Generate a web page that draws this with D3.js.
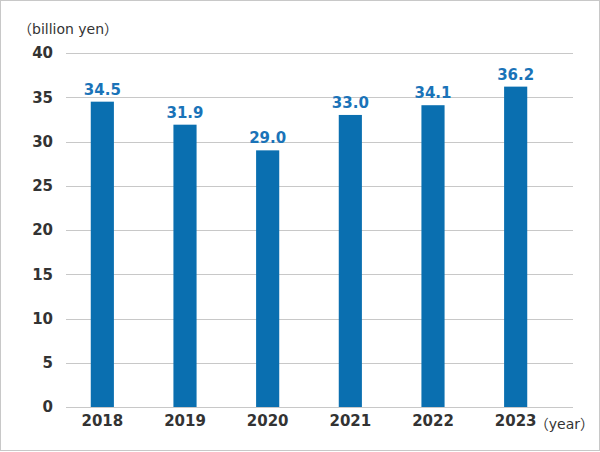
<!DOCTYPE html>
<html><head><meta charset="utf-8">
<script src="https://cdn.jsdelivr.net/npm/d3@7"></script>
<style>body{margin:0;background:#fff}svg{display:block;font-family:Verdana,"DejaVu Sans","Noto Sans",sans-serif}</style>
</head><body><svg id="c" width="600" height="452"></svg>
<script>
const years = ["2018","2019","2020","2021","2022","2023"];
const values = [34.5, 31.9, 29.0, 33.0, 34.1, 36.2];
const yTicks = [0,5,10,15,20,25,30,35,40];
const unitLabel = "（billion yen）";
const xUnitLabel = "（year）";

const svg = d3.select("#c");
svg.append("rect").attr("x",0.5).attr("y",0.5).attr("width",599).attr("height",450)
  .attr("fill","#fff").attr("stroke","#c8c8c8");

const y = d3.scaleLinear().domain([0,40]).range([407,53]);
const x = d3.scaleBand().domain(years).range([61,557]).paddingInner(0.72).paddingOuter(0.36);

// grid
svg.append("g").selectAll("line").data(yTicks).join("line")
  .attr("x1",66).attr("x2",573)
  .attr("y1",d=>Math.round(y(d))+0.5).attr("y2",d=>Math.round(y(d))+0.5)
  .attr("stroke","#c8c8c8").attr("stroke-width",1);

// y axis labels
const ya = svg.append("g").attr("transform","translate(53,0)")
  .call(d3.axisLeft(y).tickValues(yTicks).tickSize(0).tickPadding(0));
ya.select(".domain").remove();
ya.selectAll("text").attr("font-size",15).attr("font-weight","bold").attr("fill","#333")
  .attr("font-family","Verdana,'DejaVu Sans',sans-serif");

// bars
svg.append("g").selectAll("rect").data(values).join("rect")
  .attr("x",(d,i)=>x(years[i])).attr("width",x.bandwidth())
  .attr("y",d=>y(d)).attr("height",d=>y(0)-y(d))
  .attr("fill","#0a6fb0");

// value labels
svg.append("g").selectAll("text").data(values).join("text")
  .attr("x",(d,i)=>x(years[i])+x.bandwidth()/2).attr("y",d=>y(d)-7)
  .attr("text-anchor","middle").attr("font-size",15).attr("font-weight","bold")
  .attr("fill","#1a73b8").text(d=>d.toFixed(1));

// x axis
const xa = svg.append("g").attr("transform","translate(0,407)")
  .call(d3.axisBottom(x).tickSize(0).tickPadding(8));
xa.select(".domain").remove();
xa.selectAll("text").attr("font-size",15).attr("font-weight","bold").attr("fill","#333")
  .attr("font-family","Verdana,'DejaVu Sans',sans-serif").attr("dy","0.71em");

svg.append("text").attr("x",18).attr("y",34).attr("font-size",14).attr("fill","#333")
  .attr("font-family","Verdana,'DejaVu Sans','Noto Sans CJK JP',sans-serif").text(unitLabel);
svg.append("text").attr("x",594).attr("y",429).attr("text-anchor","end").attr("font-size",14).attr("fill","#333")
  .attr("font-family","Verdana,'DejaVu Sans','Noto Sans CJK JP',sans-serif").text(xUnitLabel);
</script></body></html>
